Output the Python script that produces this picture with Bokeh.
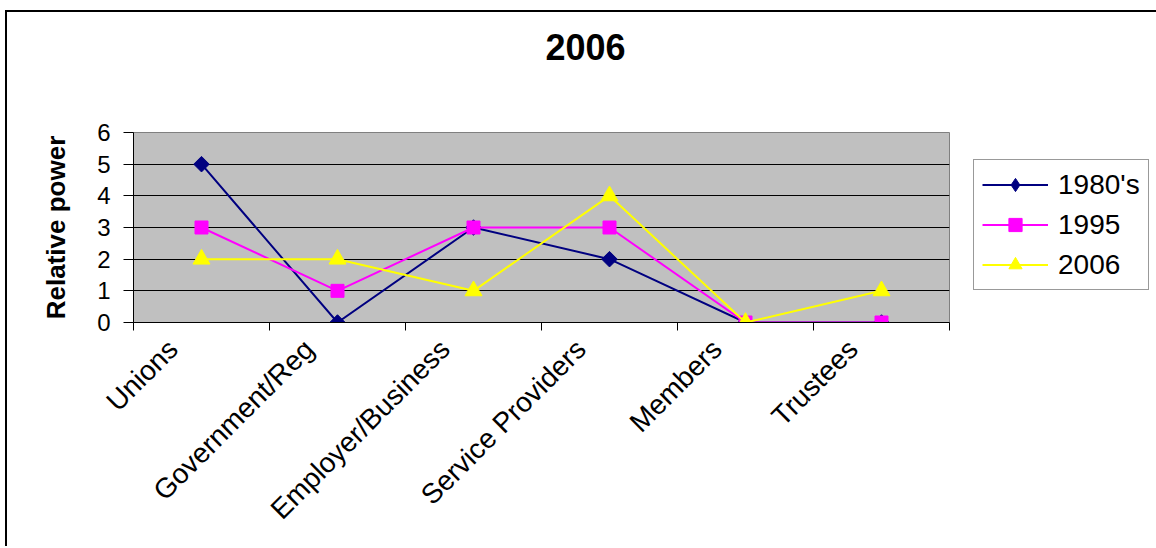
import math
from bokeh.plotting import figure
from bokeh.models import (Range1d, FixedTicker, Legend, LegendItem, Title,
                          ColumnDataSource)
from bokeh.embed import file_html
from bokeh.resources import INLINE

# ---- data ----
categories = ["Unions", "Government/Reg", "Employer/Business",
              "Service Providers", "Members", "Trustees"]
series_names = ["1980's", "1995", "2006"]
values_1980s = [5, 0, 3, 2, 0, 0]
values_1995 = [3, 1, 3, 3, 0, 0]
values_2006 = [2, 2, 1, 4, 0, 1]
y_ticks = [0, 1, 2, 3, 4, 5, 6]
chart_title = "2006"
y_label = "Relative power"

FONT = "Liberation Sans"

x_pos = [i + 0.5 for i in range(len(categories))]
label_pos = [i + 0.29 for i in range(len(categories))]
boundaries = [float(i) for i in range(len(categories) + 1)]

p = figure(title=None,
           frame_width=816, frame_height=190,
           min_border_left=126, min_border_right=207,
           min_border_top=120, min_border_bottom=224,
           x_range=Range1d(0, len(categories)),
           y_range=Range1d(min(y_ticks), max(y_ticks)),
           output_backend="svg", toolbar_location=None,
           background_fill_color="#C0C0C0", border_fill_color="white",
           styles={"border-left": "2px solid black",
                   "border-top": "2px solid black",
                   "margin-left": "5px", "margin-top": "10px"})

p.outline_line_color = "#808080"
p.outline_line_width = 1

# spacer between frame and title, then the title itself (stacked outward)
p.add_layout(Title(text=" ", text_font=FONT, text_font_size="50px"), "above")
p.add_layout(Title(text=chart_title, text_font=FONT, text_font_size="36px",
                   text_font_style="bold", text_color="black",
                   align="left", offset=412), "above")

# grid
p.xgrid.visible = False
p.ygrid.grid_line_color = "black"
p.ygrid.grid_line_width = 1

# y axis
p.yaxis.ticker = FixedTicker(ticks=y_ticks, minor_ticks=[])
p.yaxis.major_tick_out = 10
p.yaxis.major_tick_in = 0
p.yaxis.major_tick_line_color = "black"
p.yaxis.axis_line_color = "black"
p.yaxis.major_label_text_font = FONT
p.yaxis.major_label_text_font_size = "24px"
p.yaxis.major_label_text_color = "black"
p.yaxis.major_label_standoff = 13
p.yaxis.axis_label = y_label
p.yaxis.axis_label_text_font = FONT
p.yaxis.axis_label_text_font_size = "26px"
p.yaxis.axis_label_text_font_style = "bold"
p.yaxis.axis_label_text_color = "black"
p.yaxis.axis_label_standoff = 23

# x axis: labels near category centres, ticks at category boundaries
p.xaxis.ticker = FixedTicker(ticks=label_pos, minor_ticks=boundaries)
p.xaxis.major_label_overrides = {x: c for x, c in zip(label_pos, categories)}
p.xaxis.major_tick_out = 0
p.xaxis.major_tick_in = 0
p.xaxis.minor_tick_out = 8
p.xaxis.minor_tick_in = 0
p.xaxis.minor_tick_line_color = "black"
p.xaxis.axis_line_color = "black"
p.xaxis.major_label_orientation = math.pi / 4
p.xaxis.major_label_text_font = FONT
p.xaxis.major_label_text_font_size = "28px"
p.xaxis.major_label_text_color = "black"
p.xaxis.major_label_standoff = 14

styles = [
    ("#000080", "square", 11, math.pi / 4),
    ("#FF00FF", "square", 13, 0.0),
    ("#FFFF00", "triangle", 17, 0.0),
]
all_values = [values_1980s, values_1995, values_2006]

items = []
for i, (name, vals, (col, mk, sz, ang)) in enumerate(zip(series_names, all_values, styles)):
    src = ColumnDataSource(data=dict(x=x_pos, y=vals))
    ln = p.line("x", "y", source=src, line_color=col, line_width=2)
    rends = [ln]
    if i == 0:
        # legend glyphs ignore angle: a small diamond (hidden under the
        # rotated square in the plot) supplies the legend's diamond marker
        lg = p.scatter("x", "y", source=src, marker="diamond", size=13,
                       fill_color=col, line_color=col)
        rends.append(lg)
    sc = p.scatter("x", "y", source=src, marker=mk, size=sz, angle=ang,
                   fill_color=col, line_color=col)
    if i != 0:
        rends.append(sc)
    items.append(LegendItem(label=name, renderers=rends))

legend = Legend(items=items, location=(24, 32))
legend.label_text_font = FONT
legend.label_text_font_size = "28px"
legend.label_text_color = "black"
legend.label_height = 28
legend.glyph_height = 33
legend.glyph_width = 66
legend.label_standoff = 10
legend.spacing = 7
legend.padding = 8
legend.margin = 0
legend.border_line_color = "#333333"
legend.border_line_width = 1
legend.background_fill_color = "white"
legend.background_fill_alpha = 1.0
p.add_layout(legend, "right")

open("out.html", "w").write(file_html(p, INLINE))
